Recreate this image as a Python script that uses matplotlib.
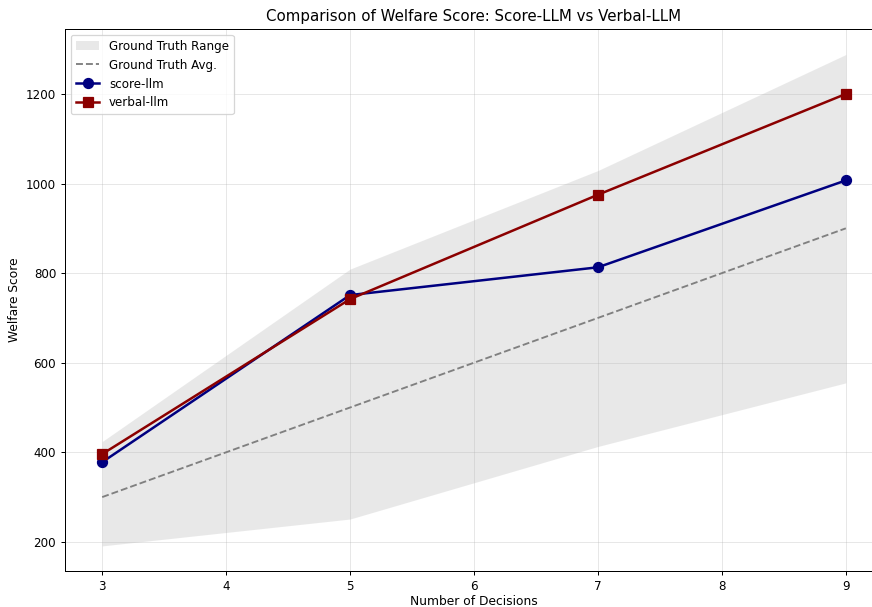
import matplotlib
matplotlib.use("Agg")
import matplotlib.pyplot as plt

decisions = [3, 5, 7, 9]
gt_lower = [191, 251, 413, 555]
gt_upper = [424, 809, 1029, 1288]
gt_avg = [300, 500, 700, 900]
score_llm = [378, 751, 813, 1007]
verbal_llm = [396, 742, 975, 1200]

DPI = 90
fig = plt.figure(figsize=(873 / DPI, 607 / DPI), dpi=DPI)
# axes extends slightly past the right edge of the image (as in the reference)
ax = fig.add_axes([65 / 873, 36 / 607, 818 / 873, (571 - 29) / 607])

ax.fill_between(decisions, gt_lower, gt_upper, color='lightgray', alpha=0.5,
                linewidth=0, label='Ground Truth Range')
ax.plot(decisions, gt_avg, '--', color='gray', linewidth=1.5, label='Ground Truth Avg.')
ax.plot(decisions, score_llm, '-o', color='navy', linewidth=2, markersize=8, label='score-llm')
ax.plot(decisions, verbal_llm, '-s', color='darkred', linewidth=2, markersize=8, label='verbal-llm')

ax.set_xlim(2.7, 9.3)
ax.set_ylim(135, 1345)
ax.set_xticks([3, 4, 5, 6, 7, 8, 9])
ax.set_yticks([200, 400, 600, 800, 1000, 1200])
ax.tick_params(labelsize=9.5)
ax.grid(True, alpha=0.3)
ax.set_xlabel('Number of Decisions', fontsize=9.8, labelpad=2)
ax.set_ylabel('Welfare Score', fontsize=9.8)
ax.set_title('Comparison of Welfare Score: Score-LLM vs Verbal-LLM', fontsize=12)
ax.legend(loc='upper left', fontsize=9.5)

fig.savefig('out.png', dpi=DPI)
